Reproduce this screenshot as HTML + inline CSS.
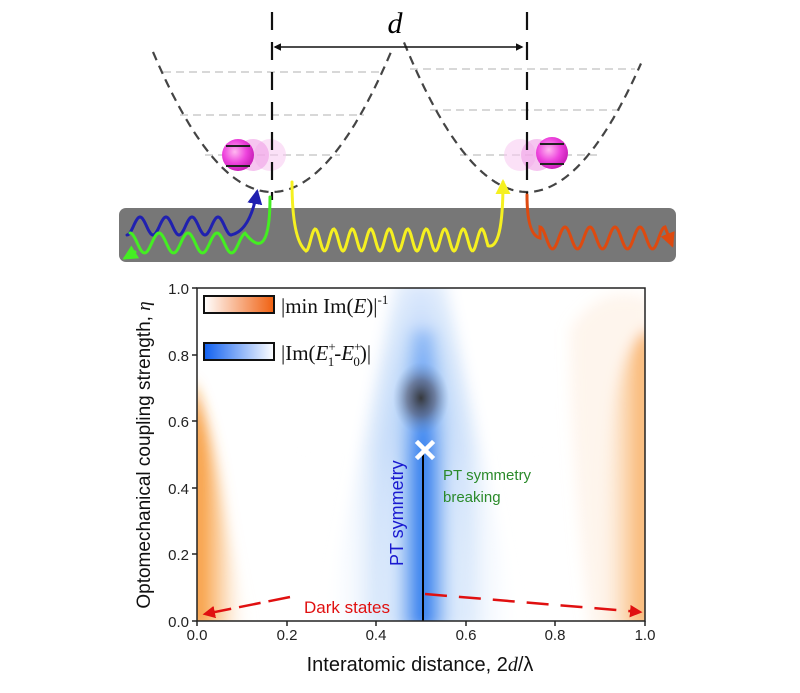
<!DOCTYPE html>
<html><head><meta charset="utf-8"><style>
html,body{margin:0;padding:0;background:#fff;}
svg{display:block;}
</style></head><body>
<svg id="s" width="800" height="693" xmlns="http://www.w3.org/2000/svg" font-family="Liberation Sans, DejaVu Sans, sans-serif">
<defs>
<radialGradient id="atom" cx="0.4" cy="0.4" r="0.6"><stop offset="0" stop-color="#ffb8f0"/><stop offset="0.6" stop-color="#ee44dd"/><stop offset="1" stop-color="#cc22bb"/></radialGradient>
<linearGradient id="lgO" x1="0" x2="1"><stop offset="0" stop-color="#fff"/><stop offset="1" stop-color="#f06010"/></linearGradient>
<linearGradient id="lgB" x1="0" x2="1"><stop offset="0" stop-color="#1060f0"/><stop offset="1" stop-color="#fff"/></linearGradient>
<linearGradient id="band" x1="0" x2="1"><stop offset="0" stop-color="#fff" stop-opacity="0"/><stop offset="0.2" stop-color="#dceafc"/><stop offset="0.4" stop-color="#5a9cf0"/><stop offset="0.5" stop-color="#1a6ff0"/><stop offset="0.6" stop-color="#5a9cf0"/><stop offset="0.8" stop-color="#dceafc"/><stop offset="1" stop-color="#fff" stop-opacity="0"/></linearGradient>
<linearGradient id="fadeV" x1="0" y1="0" x2="0" y2="1"><stop offset="0" stop-color="#fff" stop-opacity="0.75"/><stop offset="0.3" stop-color="#fff" stop-opacity="0.3"/><stop offset="0.5" stop-color="#fff" stop-opacity="0"/></linearGradient>
<linearGradient id="oL" x1="0" x2="1"><stop offset="0" stop-color="#f5820a"/><stop offset="0.5" stop-color="#f9b060" stop-opacity="0.6"/><stop offset="1" stop-color="#fff" stop-opacity="0"/></linearGradient>
<linearGradient id="oR" x1="1" x2="0"><stop offset="0" stop-color="#f5820a"/><stop offset="0.5" stop-color="#f9b060" stop-opacity="0.6"/><stop offset="1" stop-color="#fff" stop-opacity="0"/></linearGradient>
<radialGradient id="dark"><stop offset="0" stop-color="#333" stop-opacity="0.95"/><stop offset="0.5" stop-color="#556" stop-opacity="0.6"/><stop offset="1" stop-color="#6a8ab8" stop-opacity="0"/></radialGradient>
<filter id="bl" x="-20%" y="-20%" width="140%" height="140%"><feGaussianBlur stdDeviation="7"/></filter>
<clipPath id="pc"><rect x="197" y="288" width="448" height="333"/></clipPath>
<marker id="ar" viewBox="0 0 10 10" refX="8" refY="5" markerWidth="5" markerHeight="5" orient="auto-start-reverse"><path d="M0,0L10,5L0,10z" fill="context-stroke"/></marker>
</defs>

<g stroke="#ccc" stroke-width="1.5" stroke-dasharray="8,5" fill="none">
<line x1="163" y1="72" x2="380" y2="72"/><line x1="180" y1="115" x2="364" y2="115"/><line x1="205" y1="155" x2="340" y2="155"/>
<line x1="410" y1="69" x2="635" y2="69"/><line x1="430" y1="110" x2="620" y2="110"/><line x1="460" y1="155" x2="597" y2="155"/>
</g>
<g id="par" stroke="#444" stroke-width="2.2" stroke-dasharray="9,6" fill="none"></g>
<circle cx="270" cy="155" r="16" fill="#f7c8f0" opacity="0.55"/>
<circle cx="253" cy="155" r="16" fill="#f09ee6" opacity="0.6"/>
<circle cx="238" cy="155" r="16" fill="url(#atom)"/>
<circle cx="520" cy="155" r="16" fill="#f7c8f0" opacity="0.55"/>
<circle cx="537" cy="155" r="16" fill="#f09ee6" opacity="0.6"/>
<circle cx="552" cy="153" r="16" fill="url(#atom)"/>
<g stroke="#222" stroke-width="2"><line x1="226" y1="146" x2="250" y2="146"/><line x1="226" y1="166" x2="250" y2="166"/><line x1="540" y1="144" x2="564" y2="144"/><line x1="540" y1="164" x2="564" y2="164"/></g>
<g stroke="#111" stroke-width="2.2" stroke-dasharray="18,12" fill="none">
<line x1="272" y1="12" x2="272" y2="200"/><line x1="527" y1="12" x2="527" y2="200"/>
</g>
<line x1="275" y1="47" x2="522" y2="47" stroke="#111" stroke-width="1.5" marker-start="url(#ar)" marker-end="url(#ar)"/>
<text x="395" y="33" font-family="Liberation Serif, serif" font-style="italic" font-size="30" text-anchor="middle">d</text>
<rect x="119" y="208" width="557" height="54" rx="7" fill="#777"/>
<g id="waves" fill="none" stroke-width="3" stroke-linecap="round"></g>

<rect x="197" y="288" width="448" height="333" fill="#fff"/>
<g clip-path="url(#pc)">
<g filter="url(#bl)">
<path d="M396,280 L446,280 Q470,400 520,630 L322,630 Q372,400 396,280Z" fill="url(#band)" opacity="0.5"/>
<path d="M410,330 L436,330 Q455,440 470,630 L376,630 Q392,440 410,330Z" fill="url(#band)"/>
<rect x="300" y="270" width="240" height="360" fill="url(#fadeV)"/>
<path d="M190,630 L190,380 Q210,420 222,500 Q235,580 250,630 Z" fill="url(#oL)"/>
<path d="M652,630 L652,330 Q630,330 615,400 Q600,500 598,630 Z" fill="url(#oR)"/>
<path d="M652,300 L652,630 L590,630 Q570,450 570,330 Q600,280 652,300Z" fill="#fbe3cc" opacity="0.35"/>
</g>
<ellipse cx="421" cy="398" rx="28" ry="36" fill="url(#dark)"/>
</g>
<line x1="423" y1="452" x2="423" y2="621" stroke="#000" stroke-width="2"/>
<g stroke="#fff" stroke-width="4.5" stroke-linecap="square"><line x1="418" y1="443" x2="432" y2="457"/><line x1="432" y1="443" x2="418" y2="457"/></g>
<rect x="197" y="288" width="448" height="333" fill="none" stroke="#222" stroke-width="1.5"/>
<rect x="204" y="296" width="70" height="17" fill="url(#lgO)" stroke="#111" stroke-width="2"/>
<rect x="204" y="343" width="70" height="17" fill="url(#lgB)" stroke="#111" stroke-width="2"/>
<g font-family="Liberation Serif, serif" font-size="21" fill="#111">
<text x="281" y="313">|min Im(<tspan font-style="italic">E</tspan>)|<tspan font-size="13" dy="-9">-1</tspan></text>
<text x="281" y="360">|Im(<tspan font-style="italic">E</tspan><tspan font-size="13" dy="-9">+</tspan><tspan font-size="13" dx="-8" dy="15">1</tspan><tspan dy="-6">-</tspan><tspan font-style="italic">E</tspan><tspan font-size="13" dy="-9">+</tspan><tspan font-size="13" dx="-8" dy="15">0</tspan><tspan dy="-6">)|</tspan></text>
</g>
<text transform="translate(403,566) rotate(-90)" font-size="18" fill="#1a1ad0">PT symmetry</text>
<text x="443" y="480" font-size="15" fill="#2a8a2a">PT symmetry</text>
<text x="443" y="502" font-size="15" fill="#2a8a2a">breaking</text>
<text x="304" y="613" font-size="17" fill="#e01010">Dark states</text>
<g stroke="#e01010" stroke-width="2.5" fill="none">
<line x1="290" y1="597" x2="205" y2="614" stroke-dasharray="22,8" marker-end="url(#ar)"/>
<line x1="425" y1="594" x2="640" y2="612" stroke-dasharray="22,12" marker-end="url(#ar)"/>
</g>
<g stroke="#222" stroke-width="1.5">
<line x1="192" y1="288" x2="197" y2="288"/><line x1="192" y1="355" x2="197" y2="355"/><line x1="192" y1="421" x2="197" y2="421"/><line x1="192" y1="488" x2="197" y2="488"/><line x1="192" y1="554" x2="197" y2="554"/><line x1="192" y1="621" x2="197" y2="621"/>
<line x1="197" y1="621" x2="197" y2="626"/><line x1="287" y1="621" x2="287" y2="626"/><line x1="376" y1="621" x2="376" y2="626"/><line x1="466" y1="621" x2="466" y2="626"/><line x1="555" y1="621" x2="555" y2="626"/><line x1="645" y1="621" x2="645" y2="626"/>
</g>
<g font-size="15" fill="#222" text-anchor="end">
<text x="189" y="294">1.0</text><text x="189" y="361">0.8</text><text x="189" y="427">0.6</text><text x="189" y="494">0.4</text><text x="189" y="560">0.2</text><text x="189" y="627">0.0</text>
</g>
<g font-size="15" fill="#222" text-anchor="middle">
<text x="197" y="640">0.0</text><text x="287" y="640">0.2</text><text x="376" y="640">0.4</text><text x="466" y="640">0.6</text><text x="555" y="640">0.8</text><text x="645" y="640">1.0</text>
</g>
<text x="420" y="671" font-size="20" fill="#111" text-anchor="middle">Interatomic distance, 2<tspan font-family="Liberation Serif, serif" font-style="italic">d</tspan>/λ</text>
<text transform="translate(150,455) rotate(-90)" font-size="19" fill="#111" text-anchor="middle">Optomechanical coupling strength, <tspan font-family="Liberation Serif, serif" font-style="italic">η</tspan></text>
</svg>
<script>
var NS='http://www.w3.org/2000/svg';
function wave(x0,x1,yc,amp,per,phase){var p=[];for(var x=x0;x<=x1;x+=1){p.push(x+','+(yc+amp*Math.sin((x-x0)/per*2*Math.PI+phase)).toFixed(1));}return p;}
var pg=document.getElementById('par');
function para(xc,x0,x1){var p=[];for(var x=x0;x<=x1;x+=1){p.push(x+','+(192-0.00989*(x-xc)*(x-xc)).toFixed(1));}var e=document.createElementNS(NS,'path');e.setAttribute('d','M'+p.join(' L'));pg.appendChild(e);}
para(272,153,391);para(527,404,641);
var g=document.getElementById('waves');
function add(d,col,mk){var e=document.createElementNS(NS,'path');e.setAttribute('d',d);e.setAttribute('stroke',col);if(mk)e.setAttribute('marker-end','url(#ar)');g.appendChild(e);}
var b=wave(127,232,226,9,26,Math.PI/2);
add('M'+b.join(' L')+' Q250,230 257,192','#2020b0',1);
var gr=wave(130,245,243,10,29,-Math.PI/2);
add('M'+gr.join(' L')+' Q270,265 270,197','#44ee22',0);
add('M135,252 L125,258','#44ee22',1);
var y=wave(306,488,240,11,18.5,Math.PI/2);
add('M292,182 Q292,240 306,251 L'+y.join(' L')+' Q503,250 503,182','#f5f020',1);
var r=wave(540,665,238,11,25,-Math.PI/2);
add('M527,195 Q527,235 540,238 L'+r.join(' L')+' L672,245','#dd4a10',1);
</script>
</body></html>
